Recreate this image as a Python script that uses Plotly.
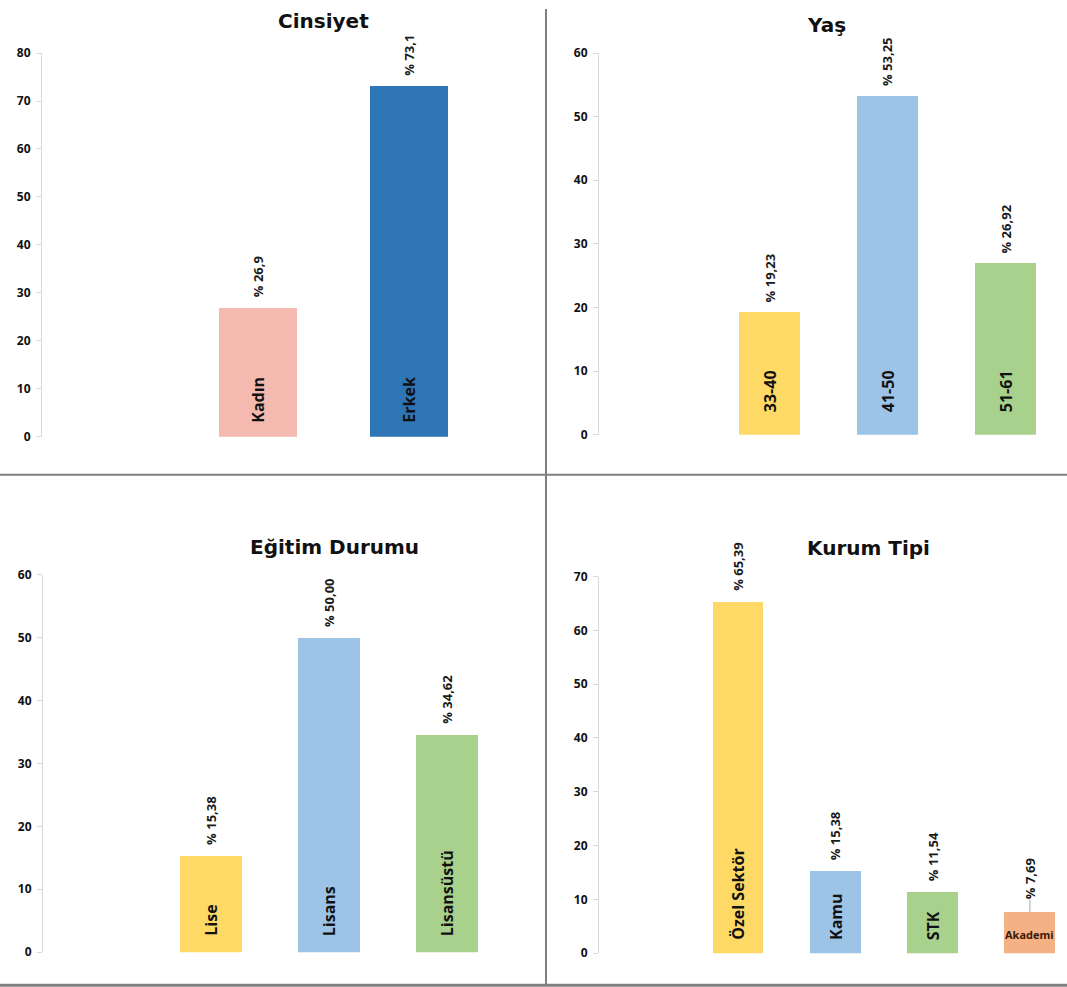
import plotly.graph_objects as go

W, H = 1067, 987          # target picture size (pixels)
# measured rendering transform: picture_row = Y_OFF + Y_SCALE * figure_row
Y_OFF, Y_SCALE = 7.9, 0.984
HF = 1003                 # figure height so that picture rows up to ~987 are reachable

# ---------------- data ----------------
cins_cats = ["Kadın", "Erkek"]
cins_vals = [26.9, 73.1]
cins_text = ["% 26,9", "% 73,1"]
cins_colors = ["#F4B9AF", "#2E75B6"]

yas_cats = ["33-40", "41-50", "51-61"]
yas_vals = [19.23, 53.25, 26.92]
yas_text = ["% 19,23", "% 53,25", "% 26,92"]
yas_colors = ["#FFD966", "#9DC3E6", "#A9D18E"]

egt_cats = ["Lise", "Lisans", "Lisansüstü"]
egt_vals = [15.38, 50.00, 34.62]
egt_text = ["% 15,38", "% 50,00", "% 34,62"]
egt_colors = ["#FFD966", "#9DC3E6", "#A9D18E"]

kurum_cats = ["Özel Sektör", "Kamu", "STK", "Akademi"]
kurum_vals = [65.39, 15.38, 11.54, 7.69]
kurum_text = ["% 65,39", "% 15,38", "% 11,54", "% 7,69"]
kurum_colors = ["#FFD966", "#9DC3E6", "#A9D18E", "#F4B183"]

titles = ["Cinsiyet", "Yaş", "Eğitim Durumu", "Kurum Tipi"]
y_max = [80, 60, 60, 70]


def py(y):
    """picture pixel row -> paper fraction"""
    yf = (y - Y_OFF) / Y_SCALE
    return 1 - yf / HF


def px(x):
    return x / W


# ---------------- layout geometry (picture pixels) ----------------
panels = [
    dict(cats=cins_cats, vals=cins_vals, text=cins_text, colors=cins_colors,
         x0=42, x1=530, ytop=52, ybot=436, c0=258, step=151, bw=0.517,
         tx=323, ty=20, cshift=12),
    dict(cats=yas_cats, vals=yas_vals, text=yas_text, colors=yas_colors,
         x0=599, x1=1060, ytop=52, ybot=434, c0=769.5, step=118, bw=0.517,
         tx=826, ty=24, cshift=20),
    dict(cats=egt_cats, vals=egt_vals, text=egt_text, colors=egt_colors,
         x0=43, x1=530, ytop=574, ybot=952, c0=211, step=118, bw=0.525,
         tx=334, ty=546, cshift=14),
    dict(cats=kurum_cats, vals=kurum_vals, text=kurum_text, colors=kurum_colors,
         x0=599, x1=1062, ytop=576, ybot=953, c0=738, step=97.3, bw=0.524,
         tx=868, ty=547, cshift=11),
]

fig = go.Figure()
annotations = []
shapes = []

LABEL_FONT = dict(family="Open Sans", size=16, color="#111111", weight="bold")
VALUE_FONT = dict(family="Open Sans", size=13, color="#1a1a1a", weight="bold")
TITLE_FONT = dict(family="DejaVu Sans", size=20, color="#111111", weight="bold")

for i, p in enumerate(panels):
    n = i + 1
    xa = "x" if n == 1 else f"x{n}"
    ya = "y" if n == 1 else f"y{n}"
    fig.add_trace(go.Bar(
        x=p["cats"], y=p["vals"], width=p["bw"],
        marker=dict(color=p["colors"], line=dict(width=0)),
        xaxis=xa, yaxis=ya, showlegend=False, hoverinfo="x+y",
    ))
    r0 = -(p["c0"] - p["x0"]) / p["step"]
    r1 = r0 + (p["x1"] - p["x0"]) / p["step"]
    xkey = "xaxis" if n == 1 else f"xaxis{n}"
    ykey = "yaxis" if n == 1 else f"yaxis{n}"
    fig.layout[xkey] = dict(
        domain=[px(p["x0"]), px(p["x1"])], type="category", range=[r0, r1],
        showticklabels=False, showline=False, showgrid=False, zeroline=False,
        ticks="", anchor=ya, fixedrange=True,
    )
    fig.layout[ykey] = dict(
        domain=[py(p["ybot"]), py(p["ytop"])], range=[0, y_max[i]],
        dtick=10, showgrid=False, zeroline=False, showline=True,
        linecolor="#D9D9D9", linewidth=1, ticks="outside", ticklen=5,
        tickcolor="#D9D9D9", tickwidth=1, ticklabelstandoff=3,
        tickfont=dict(family="Open Sans", size=12, color="#111111", weight="bold"),
        anchor=xa, fixedrange=True,
    )
    annotations.append(dict(
        text=titles[i], xref="paper", yref="paper", x=px(p["tx"]), y=py(p["ty"]),
        xanchor="center", yanchor="middle", showarrow=False, font=TITLE_FONT,
    ))
    for j, (c, v, t) in enumerate(zip(p["cats"], p["vals"], p["text"])):
        horizontal = (c == "Akademi")
        if horizontal:
            annotations.append(dict(
                text=c, xref=xa, yref=ya, x=c, y=0, xanchor="center", yanchor="bottom",
                yshift=9, showarrow=False,
                font=dict(family="Open Sans", size=11, color="#3a1a0a", weight="bold"),
            ))
            vshift = 11
            shapes.append(dict(
                type="line", xref=xa, yref=ya, x0=c, x1=c, ysizemode="pixel",
                yanchor=v, y0=0, y1=12, line=dict(color="#A6A6A6", width=1),
            ))
        else:
            annotations.append(dict(
                text=c, xref=xa, yref=ya, x=c, y=0, xanchor="center", yanchor="bottom",
                yshift=p["cshift"], textangle=-90, showarrow=False, font=LABEL_FONT,
            ))
            vshift = 8
        annotations.append(dict(
            text=t, xref=xa, yref=ya, x=c, y=v, xanchor="center", yanchor="bottom",
            yshift=vshift, textangle=-90, showarrow=False, font=VALUE_FONT,
        ))

# divider lines
LINE = dict(color="#7F7F7F", width=2)
shapes += [
    dict(type="line", xref="paper", yref="paper", x0=px(546), x1=px(546),
         y0=py(985), y1=1, line=LINE),
    dict(type="line", xref="paper", yref="paper", x0=0, x1=1,
         y0=py(474), y1=py(474), line=LINE),
    dict(type="line", xref="paper", yref="paper", x0=0, x1=1,
         y0=py(985), y1=py(985), line=dict(color="#7F7F7F", width=3)),
]

fig.update_layout(
    width=W, height=HF, margin=dict(l=0, r=0, t=0, b=0),
    paper_bgcolor="white", plot_bgcolor="white",
    annotations=annotations, shapes=shapes, bargap=0,
)

fig.write_html("out.html", config={"displayModeBar": False})
